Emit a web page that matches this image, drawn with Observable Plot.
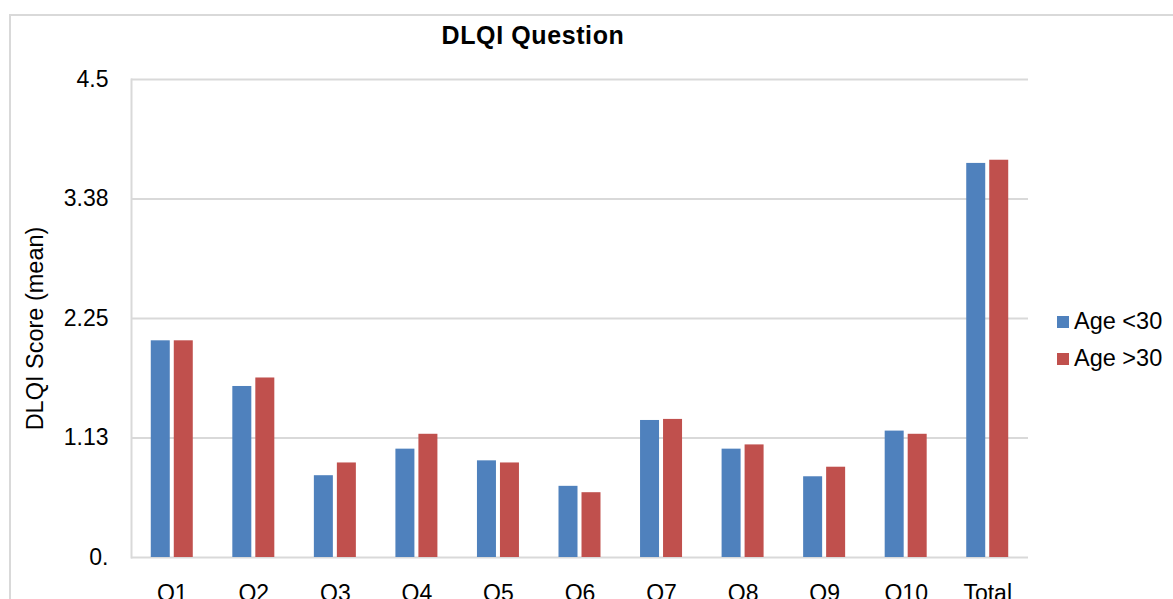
<!DOCTYPE html>
<html>
<head>
<meta charset="utf-8">
<script src="https://cdn.jsdelivr.net/npm/d3@7"></script>
<script src="https://cdn.jsdelivr.net/npm/@observablehq/plot@0.6"></script>
<style>
  body { margin: 0; overflow: hidden; background: #fff; font-family: "Liberation Sans", Arial, sans-serif; }
  #wrap { position: relative; width: 1173px; height: 599px; overflow: hidden; }
  #chart { position: absolute; left: 0; top: 0; }
  #border { position: absolute; left: 9px; top: 14px; width: 1300px; height: 800px; border: 2px solid #d9d9d9; pointer-events: none; }
  #title { position: absolute; left: 0; width: 1066px; top: 23px; text-align: center; font-weight: bold; font-size: 25px; line-height: 25px; letter-spacing: 0.6px; color: #000; }
  #legend { position: absolute; left: 1057px; top: 303px; font-size: 23.5px; color: #000; }
  .item { display: flex; align-items: center; height: 37px; }
  .sw { width: 12px; height: 12px; margin-right: 5px; }
</style>
</head>
<body>
<div id="wrap">
  <div id="chart"></div>
  <div id="title"></div>
  <div id="legend"></div>
  <div id="border"></div>
</div>
<script>
const title = "DLQI Question";
const yLabel = "DLQI Score (mean)";
const categories = ["Q1", "Q2", "Q3", "Q4", "Q5", "Q6", "Q7", "Q8", "Q9", "Q10", "Total"];
const seriesNames = ["Age <30", "Age >30"];
const seriesColors = ["#4F81BD", "#C0504D"];
const ageUnder30 = [2.04, 1.61, 0.77, 1.02, 0.91, 0.67, 1.29, 1.02, 0.76, 1.19, 3.71];
const ageOver30  = [2.04, 1.69, 0.89, 1.16, 0.89, 0.61, 1.30, 1.06, 0.85, 1.16, 3.74];
const yTicks = [0, 1.125, 2.25, 3.375, 4.5];
const yTickLabels = ["0.", "1.13", "2.25", "3.38", "4.5"];

const rowsUnder = categories.map((c, i) => ({category: c, series: seriesNames[0], value: ageUnder30[i]}));
const rowsOver = categories.map((c, i) => ({category: c, series: seriesNames[1], value: ageOver30[i]}));

const chart = Plot.plot({
  width: 1173,
  height: 599,
  marginLeft: 131,
  marginRight: 145,
  marginTop: 79,
  marginBottom: 42,
  style: {fontFamily: "'Liberation Sans', Arial, sans-serif", fontSize: "23px", color: "#000", background: "transparent", overflow: "visible"},
  x: {domain: categories, paddingInner: 0.485, paddingOuter: 0.2425, round: false},
  y: {domain: [0, 4.5]},
  color: {domain: seriesNames, range: seriesColors},
  marks: [
    Plot.gridY(yTicks, {stroke: "#d9d9d9", strokeOpacity: 1, strokeWidth: 2}),
    Plot.frame({anchor: "left", stroke: "#d9d9d9", strokeWidth: 2}),
    Plot.barY(rowsUnder, {x: "category", y: "value", fill: "series", insetRight: 23}),
    Plot.barY(rowsOver, {x: "category", y: "value", fill: "series", insetLeft: 23}),
    Plot.axisY({ticks: yTicks, tickFormat: (d, i) => yTickLabels[i], tickSize: 0, tickPadding: 23, label: null, fontSize: 23}),
    Plot.axisX({tickSize: 0, tickPadding: 27, label: null, fontSize: 23}),
    Plot.text([yLabel], {text: d => d, frameAnchor: "left", rotate: -90, dx: -89, dy: 10, lineAnchor: "bottom", textAnchor: "middle", fontSize: 23.5, fill: "#000"})
  ]
});
document.getElementById("chart").appendChild(chart);
document.getElementById("title").textContent = title;

const legend = document.getElementById("legend");
seriesNames.forEach((name, i) => {
  const item = document.createElement("div");
  item.className = "item";
  const sw = document.createElement("div");
  sw.className = "sw";
  sw.style.background = seriesColors[i];
  const lab = document.createElement("span");
  lab.textContent = name;
  item.appendChild(sw);
  item.appendChild(lab);
  legend.appendChild(item);
});
</script>
</body>
</html>
